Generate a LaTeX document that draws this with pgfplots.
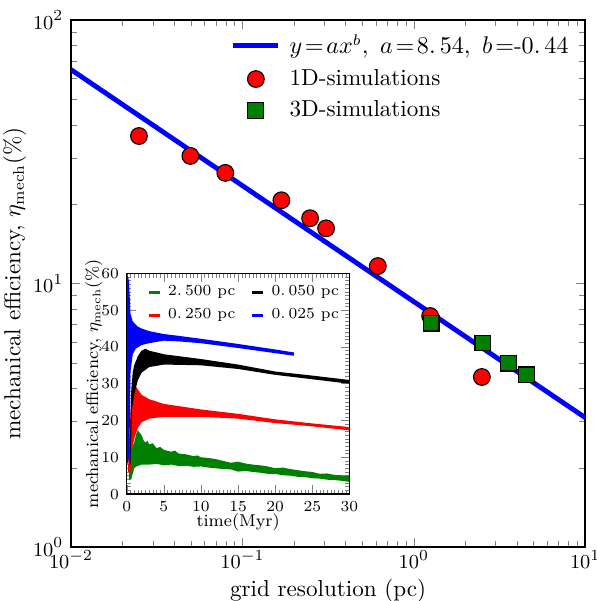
\documentclass[border=0pt]{standalone}
\usepackage{pgfplots}
\pgfplotsset{compat=1.18}
\definecolor{mplgreen}{rgb}{0,0.5,0}
\pgfplotsset{mylegmark/.style={legend image code/.code={\draw[##1] plot coordinates {(0.36cm,0cm)};}}}
\begin{document}
\begin{tikzpicture}
\begin{axis}[
  name=main,
  scale only axis, width=233.6pt, height=239.5pt,
  xmode=log, ymode=log,
  xmin=0.01, xmax=10, ymin=1, ymax=100,
  axis line style={line width=0.7pt},
  tick label style={font=\fontsize{9.5}{11}\selectfont},
  xticklabel style={yshift=2pt},
  label style={font=\fontsize{10.5}{12}\selectfont},
  xlabel={grid resolution (pc)},
  ylabel={mechanical efficiency, $\eta_{\rm mech}$(\%)},
  xlabel style={yshift=2pt},
  ylabel style={yshift=-3.7pt},
  legend style={draw=none, fill=none, at={(0.99,0.99)}, anchor=north east, row sep=1.5pt, font=\fontsize{10.5}{12}\selectfont,
    /tikz/every odd column/.append style={column sep=2pt}},
  legend cell align=left,
  legend image code/.code={\draw[mark repeat=2,mark phase=2,#1] plot coordinates {(0cm,0cm) (0.36cm,0cm) (0.72cm,0cm)};},
  clip=true,
]
\addplot[blue, line width=2.2pt] coordinates {(0.01,64.8) (10,3.10)};
\addlegendentry{$\thickmuskip=2mu y=ax^b,\ a=8.\,54,\ b=$-$0.\,44$}
\addplot[only marks, mark=*, mark size=3.8pt, mark options={fill=red, draw=black, line width=0.5pt}, mylegmark] coordinates {
(0.0249,36.3) (0.0497,30.5) (0.0795,26.3) (0.1688,20.7) (0.2483,17.7) (0.3078,16.2) (0.6168,11.65) (1.246,7.53) (2.496,4.42)};
\addlegendentry{1D-simulations}
\addplot[only marks, mark=square*, mark size=3.6pt, mark options={fill=mplgreen, draw=black, line width=0.5pt}, mylegmark] coordinates {
(1.262,7.08) (2.53,5.95) (3.553,4.99) (4.525,4.50)};
\addlegendentry{3D-simulations}
\end{axis}

\begin{axis}[
  at={(25.3pt,24.1pt)}, anchor=south west,
  scale only axis, width=101.2pt, height=100.3pt,
  xmin=0, xmax=30, ymin=0, ymax=60,
  xtick={0,5,...,30}, ytick={0,10,...,60},
  minor x tick num=9, minor y tick num=9,
  major tick length=4pt, minor tick length=2pt,
  tick pos=both,
  axis background/.style={fill=white},
  axis line style={line width=0.6pt},
  tick label style={font=\fontsize{7.5}{8}\selectfont},
  xlabel={time(Myr)}, ylabel={mechanical efficiency, $\eta_{\rm mech}$(\%)},
  label style={font=\fontsize{7.8}{9}\selectfont},
  xlabel style={yshift=6pt}, ylabel style={yshift=-7.3pt},
  legend columns=2,
  legend style={draw=none, fill=none, at={(0.06,0.985)}, anchor=north west, font=\fontsize{7}{8}\selectfont, row sep=0.5pt,
    /tikz/every odd column/.append style={column sep=1pt},
    /tikz/every even column/.append style={column sep=5pt}},
  legend image post style={line width=1.5pt},
  legend image code/.code={\draw[#1] (0pt,0pt) -- (5pt,0pt);},
]
\addlegendimage{mplgreen}
\addlegendentry{$2.\,500$ pc}
\addlegendimage{black}
\addlegendentry{$0.\,050$ pc}
\addlegendimage{red}
\addlegendentry{$0.\,250$ pc}
\addlegendimage{blue}
\addlegendentry{$0.\,025$ pc}
% green band
\addplot[fill=mplgreen, draw=none, forget plot] coordinates {
(0.3,5) (0.6,12) (1,14) (1.3,16.5) (1.5,17.3) (1.8,16.5) (2,16) (2.3,14.5) (2.5,14) (2.8,14.5) (3,13.5) (3.5,13.8) (4,12.5) (4.5,12.8) (5,12) (6,11.5) (6.5,11.8) (7,11) (8,10.8) (9,10.3) (9.5,10.5) (10,10) (11,9.8) (12,9.5) (13,9) (14,8.5) (15,8.8) (16,8.3) (17,8) (18,7.8) (19,7.5) (20,7) (21,7.2) (22,6.8) (23,6.5) (24,6.2) (25,6) (26,5.5) (27,5.6) (28,5.2) (29,5.1) (30,5)
(30,3.3) (29,3.6) (28,3.8) (27,3.9) (26,4.2) (25,4.3) (24,4.6) (23,4.7) (22,5) (21,5.1) (20,5.5) (19,5.5) (18,5.8) (17,6) (16,6.3) (15,6.1) (14,6.7) (13,6.8) (12,7) (11,7.2) (10,7.5) (9,7.4) (8,7.7) (7,7.6) (6,8) (5,7.8) (4,8.2) (3,8) (2,8) (1.3,7.5) (1,7) (0.6,4) (0.3,4)} -- cycle;
% red band
\addplot[fill=red, draw=none, forget plot] coordinates {
(0.2,8) (0.5,22) (0.8,28) (1,30) (1.3,29) (2,27) (3,25.8) (5,24.5) (10,23) (15,21.8) (20,20.3) (25,19.2) (30,18.2)
(30,17.3) (25,18.4) (20,19.3) (15,20.5) (10,21) (5,21) (3,20.5) (2,19.5) (1.5,18) (1,15) (0.7,12) (0.5,6) (0.2,6)} -- cycle;
% black band
\addplot[fill=black, draw=none, forget plot] coordinates {
(0.4,12) (0.6,28) (0.8,33) (1,35) (1.5,37.5) (2,39) (2.5,39.5) (3,39) (5,38) (10,36.7) (15,35.2) (20,33.3) (25,32.2) (30,31)
(30,30) (25,31.2) (20,32.4) (15,34) (10,35) (5,35.2) (3,34.5) (2,33) (1.5,31) (1,27) (0.7,23) (0.5,8) (0.4,8)} -- cycle;
% blue band
\addplot[fill=blue, draw=none, forget plot] coordinates {
(0.05,60) (0.3,58) (0.5,49) (0.8,47) (1,46.5) (1.5,45.5) (2,45) (3,44.3) (5,43.5) (7,43) (10,42.2) (15,40.8) (20,39.3) (22.5,38.5)
(22.5,37.6) (20,38.3) (15,39.7) (10,41) (7,41.5) (5,41.7) (3,41) (2,40.5) (1.2,39.5) (0.8,38) (0.5,33) (0.35,10) (0.05,8)} -- cycle;
\end{axis}
\pgfresetboundingbox
\path[use as bounding box] ([xshift=-32.3pt,yshift=-24.5pt]main.south west) rectangle ([xshift=5pt,yshift=9.1pt]main.north east);
\end{tikzpicture}
\end{document}
